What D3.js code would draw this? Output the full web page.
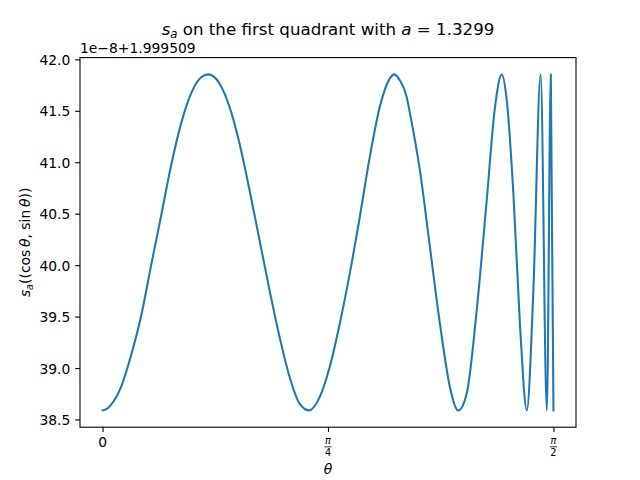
<!DOCTYPE html>
<html>
<head>
<meta charset="utf-8">
<script src="https://cdn.jsdelivr.net/npm/d3@7/dist/d3.min.js"></script>
<style>
  html, body { margin: 0; padding: 0; background: #fff; }
  svg { display: block; font-family: "DejaVu Sans", sans-serif; }
</style>
</head>
<body>
<svg id="chart" width="640" height="480"></svg>
<script>
// theta (radians) sampled along the curve
const thetaValues = [0, 0.0146, 0.0293, 0.0642, 0.0991, 0.1340, 0.1690, 0.2039, 0.2388, 0.2737, 0.3086, 0.3435, 0.3683,
  0.4074, 0.4423, 0.4772, 0.5121, 0.5470, 0.5819, 0.6168, 0.6517, 0.6866, 0.7191,
  0.7564, 0.7913, 0.8263, 0.8612, 0.8961, 0.9310, 0.9659, 1.0008, 1.0158,
  1.0370, 1.0591, 1.0706, 1.1055, 1.1404, 1.1753, 1.2102, 1.2392,
  1.2685, 1.3034, 1.3383, 1.3673, 1.3907,
  1.4081, 1.4312, 1.4546, 1.4780,
  1.5004, 1.5262, 1.5478, 1.5617, 1.5708];
// s_a values, in units of 1e-8 above 1.999509
const sValues = [38.588, 38.602, 38.642, 38.815, 39.120, 39.500, 39.995, 40.478, 40.968, 41.378, 41.670, 41.826, 41.854,
  41.766, 41.539, 41.183, 40.728, 40.242, 39.755, 39.301, 38.912, 38.653, 38.588,
  38.717, 39.009, 39.431, 39.918, 40.468, 41.052, 41.539, 41.815, 41.854,
  41.790, 41.640, 41.480, 40.923, 40.177, 39.431, 38.814, 38.588,
  38.750, 39.561, 40.631, 41.539, 41.854,
  41.604, 40.696, 39.398, 38.588,
  39.723, 41.854, 38.588, 41.854, 38.588];
const yTickValues = [38.5, 39.0, 39.5, 40.0, 40.5, 41.0, 41.5, 42.0];
const xTickValues = [0, Math.PI / 4, Math.PI / 2];
const xTickLabels = [{num: "0"}, {num: "π", den: "4"}, {num: "π", den: "2"}];
const offsetText = "1e\u22128+1.999509";

(function () {
const W = 640, H = 480;
const mLeft = 80, mRight = 576, mTop = 57.6, mBottom = 427.2;
const fs = 13.89;

const svg = d3.select("#chart");
svg.append("rect").attr("width", W).attr("height", H).attr("fill", "#fff");

const data = thetaValues.map((t, i) => ({t, v: sValues[i]}));
const xMin = d3.min(thetaValues), xMax = d3.max(thetaValues);
const yMin = d3.min(sValues), yMax = d3.max(sValues);
const xPad = (xMax - xMin) * 0.05, yPad = (yMax - yMin) * 0.05;

const x = d3.scaleLinear().domain([xMin - xPad, xMax + xPad]).range([mLeft, mRight]);
const y = d3.scaleLinear().domain([yMin - yPad, yMax + yPad]).range([mBottom, mTop]);

// line
const line = d3.line().x(d => x(d.t)).y(d => y(d.v)).curve(d3.curveMonotoneX);
svg.append("path").datum(data)
  .attr("d", line)
  .attr("fill", "none")
  .attr("stroke", "#1f77b4")
  .attr("stroke-width", 2.08)
  .attr("stroke-linejoin", "round")
  .attr("stroke-linecap", "square");

// axes
const yAxis = d3.axisLeft(y).tickValues(yTickValues).tickFormat(d3.format(".1f"))
  .tickSize(4.86).tickPadding(4.86);
const gy = svg.append("g").attr("transform", `translate(${mLeft},0)`).call(yAxis);
gy.select(".domain").remove();
gy.selectAll("line").attr("stroke", "#000").attr("stroke-width", 1.1);
gy.selectAll("text").attr("font-size", fs).attr("font-family", "DejaVu Sans").attr("fill", "#000").attr("dy", "0.36em");

const xAxis = d3.axisBottom(x).tickValues(xTickValues).tickFormat("").tickSize(4.86);
const gx = svg.append("g").attr("transform", `translate(0,${mBottom})`).call(xAxis);
gx.select(".domain").remove();
gx.selectAll("line").attr("stroke", "#000").attr("stroke-width", 1.1);

// x tick labels (fractions)
xTickValues.forEach((v, i) => {
  const lab = xTickLabels[i];
  const cx = x(v);
  const g = svg.append("g").attr("font-family", "DejaVu Sans").attr("fill", "#000");
  if (!lab.den) {
    g.append("text").attr("x", cx).attr("y", mBottom + 19.4).attr("text-anchor", "middle")
      .attr("font-size", fs).text(lab.num);
  } else {
    const sf = fs * 0.7;
    g.append("text").attr("x", cx).attr("y", mBottom + 16.3).attr("text-anchor", "middle")
      .attr("font-size", sf).attr("font-style", "italic").text(lab.num);
    g.append("line").attr("x1", cx - 3.6).attr("x2", cx + 3.6)
      .attr("y1", mBottom + 19.6).attr("y2", mBottom + 19.6)
      .attr("stroke", "#000").attr("stroke-width", 0.8);
    g.append("text").attr("x", cx).attr("y", mBottom + 28.6).attr("text-anchor", "middle")
      .attr("font-size", sf).text(lab.den);
  }
});

// frame
svg.append("rect").attr("x", mLeft).attr("y", mTop).attr("width", mRight - mLeft).attr("height", mBottom - mTop)
  .attr("fill", "none").attr("stroke", "#000").attr("stroke-width", 1.1);

// offset text
svg.append("text").attr("x", mLeft).attr("y", 52.5).attr("font-size", fs).attr("fill", "#000")
  .text(offsetText);

// title
const title = svg.append("text").attr("x", (mLeft + mRight) / 2).attr("y", 35)
  .attr("text-anchor", "middle").attr("font-size", 16.67).attr("fill", "#000");
title.append("tspan").attr("font-style", "italic").text("s");
title.append("tspan").attr("font-style", "italic").attr("font-size", 11.7).attr("dy", 2.6).text("a");
title.append("tspan").attr("dy", -2.6).text(" on the first quadrant with ");
title.append("tspan").attr("font-style", "italic").text("a");
title.append("tspan").text(" = 1.3299");

// x label
svg.append("text").attr("x", (mLeft + mRight) / 2).attr("y", 474).attr("text-anchor", "middle")
  .attr("font-size", fs).attr("font-style", "italic").attr("fill", "#000").text("θ");

// y label
const yl = svg.append("text").attr("transform", `translate(30,${(mTop + mBottom) / 2}) rotate(-90)`)
  .attr("text-anchor", "middle").attr("font-size", fs).attr("fill", "#000");
yl.append("tspan").attr("font-style", "italic").text("s");
yl.append("tspan").attr("font-style", "italic").attr("font-size", 9.7).attr("dy", 2.5).text("a");
yl.append("tspan").attr("dy", -2.5).text("((cos\u2009");
yl.append("tspan").attr("font-style", "italic").text("θ");
yl.append("tspan").text(", sin\u2009");
yl.append("tspan").attr("font-style", "italic").text("θ");
yl.append("tspan").text("))");
})();
</script>
</body>
</html>
